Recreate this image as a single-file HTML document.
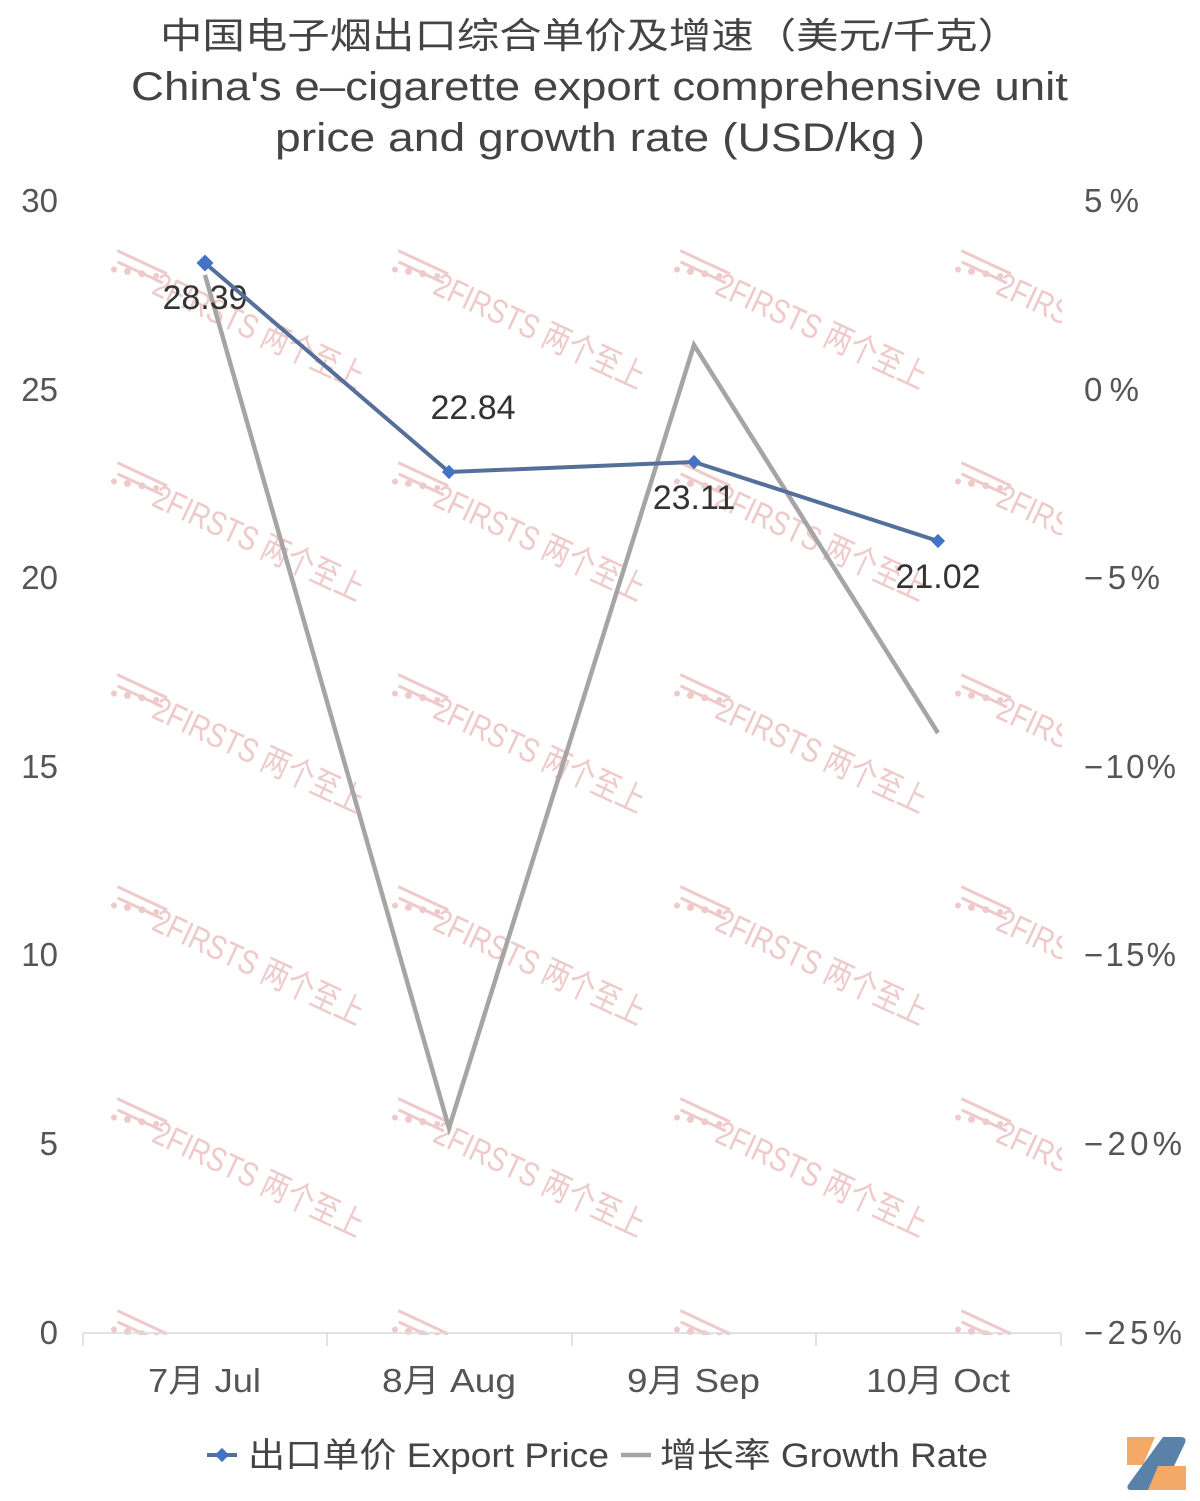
<!DOCTYPE html>
<html><head><meta charset="utf-8"><style>body{margin:0;background:#fff}svg{display:block}</style></head>
<body>
<svg width="1200" height="1501" viewBox="0 0 1200 1501" xmlns="http://www.w3.org/2000/svg" font-family="'Liberation Sans','Noto Sans CJK SC',sans-serif">
<defs>
<g id="wm" fill="#eecaca">
  <g transform="rotate(25)">
    <circle cx="5" cy="6" r="3"/><circle cx="18" cy="2" r="3.5"/><circle cx="32" cy="-2" r="3.5"/><circle cx="46" cy="-6" r="3"/>
    <rect x="0" y="-14" width="55" height="3"/><rect x="5" y="-4" width="50" height="3"/>
    <text x="60" y="12" font-size="34" font-family="'Liberation Sans Narrow','Liberation Sans','Noto Sans CJK SC',sans-serif" transform="scale(0.8,1)">2FIRSTS 两个至上</text>
  </g>
</g>
<clipPath id="cp"><rect x="0" y="180" width="1062" height="1155"/></clipPath>
</defs>
<g clip-path="url(#cp)">
<g id="row">
<use href="#wm" x="112" y="262"/><use href="#wm" x="393" y="262"/><use href="#wm" x="675" y="262"/><use href="#wm" x="956" y="262"/>
</g>
<use href="#row" y="212"/><use href="#row" y="424"/><use href="#row" y="636"/><use href="#row" y="848"/><use href="#row" y="1060"/>
</g>
<g fill="#444">
<text x="160" y="48" font-size="36" textLength="860" lengthAdjust="spacingAndGlyphs">中国电子烟出口综合单价及增速（美元/千克）</text>
<text x="131" y="100" font-size="40" textLength="937" lengthAdjust="spacingAndGlyphs">China's e–cigarette export comprehensive unit</text>
<text x="275" y="151" font-size="40" textLength="650" lengthAdjust="spacingAndGlyphs">price and growth rate (USD/kg )</text>
</g>
<g fill="#555" font-size="33">
<g text-anchor="end">
<text x="58" y="212">30</text><text x="58" y="401">25</text><text x="58" y="589">20</text><text x="58" y="778">15</text><text x="58" y="966">10</text><text x="58" y="1155">5</text><text x="58" y="1344">0</text>
</g>
<g text-anchor="start" lengthAdjust="spacingAndGlyphs">
<text x="1084" y="212" textLength="55">5%</text><text x="1084" y="401" textLength="55">0%</text><text x="1084" y="589" textLength="76">−5%</text><text x="1084" y="778" textLength="92">−10%</text><text x="1084" y="966" textLength="92">−15%</text><text x="1084" y="1155" textLength="98">−20%</text><text x="1084" y="1344" textLength="98">−25%</text>
</g>
<g>
<text x="148" y="1392" textLength="113" lengthAdjust="spacingAndGlyphs">7月 Jul</text><text x="382" y="1392" textLength="134" lengthAdjust="spacingAndGlyphs">8月 Aug</text><text x="627" y="1392" textLength="133" lengthAdjust="spacingAndGlyphs">9月 Sep</text><text x="866" y="1392" textLength="144" lengthAdjust="spacingAndGlyphs">10月 Oct</text>
</g>
</g>
<g stroke="#d9d9d9" stroke-width="1.5">
<line x1="83" y1="1333" x2="1061" y2="1333"/>
<line x1="83" y1="1333" x2="83" y2="1346"/><line x1="327" y1="1333" x2="327" y2="1346"/><line x1="572" y1="1333" x2="572" y2="1346"/><line x1="816" y1="1333" x2="816" y2="1346"/><line x1="1061" y1="1333" x2="1061" y2="1346"/>
</g>
<polyline points="205,275 449,1128 694,345 938,733" fill="none" stroke="#a5a5a5" stroke-width="4.5"/>
<g fill="#333" font-size="34" text-anchor="middle">
<text x="205" y="309">28.39</text><text x="473" y="419">22.84</text><text x="694" y="509">23.11</text><text x="938" y="588">21.02</text>
</g>
<polyline points="205,263 449,472 694,462 938,541" fill="none" stroke="#54709a" stroke-width="4"/>
<g fill="#4472c4">
<rect x="199" y="257" width="12" height="12" transform="rotate(45 205 263)"/>
<rect x="444" y="467" width="10" height="10" transform="rotate(45 449 472)"/>
<rect x="689" y="457" width="10" height="10" transform="rotate(45 694 462)"/>
<rect x="933" y="536" width="10" height="10" transform="rotate(45 938 541)"/>
</g>
<line x1="207" y1="1455" x2="237" y2="1455" stroke="#54709a" stroke-width="4"/>
<rect x="217" y="1450" width="10" height="10" fill="#4472c4" transform="rotate(45 222 1455)"/>
<text x="248" y="1467" font-size="34" fill="#444" textLength="361" lengthAdjust="spacingAndGlyphs">出口单价 Export Price</text>
<line x1="621" y1="1455" x2="651" y2="1455" stroke="#a5a5a5" stroke-width="4.5"/>
<text x="660" y="1467" font-size="34" fill="#444" textLength="328" lengthAdjust="spacingAndGlyphs">增长率 Growth Rate</text>
<g>
<path d="M1127,1437 h28 l-12,28 h-16 z" fill="#f4a966"/>
<path d="M1163,1437 h18 q6,0 4,6 l-20,42 q-2,5 -8,5 h-26 q-5,0 -3,-5 z" fill="#5a82a8"/>
<path d="M1158,1466 h28 v24 h-38 z" fill="#f4a966"/>
</g>
</svg>
</body></html>
